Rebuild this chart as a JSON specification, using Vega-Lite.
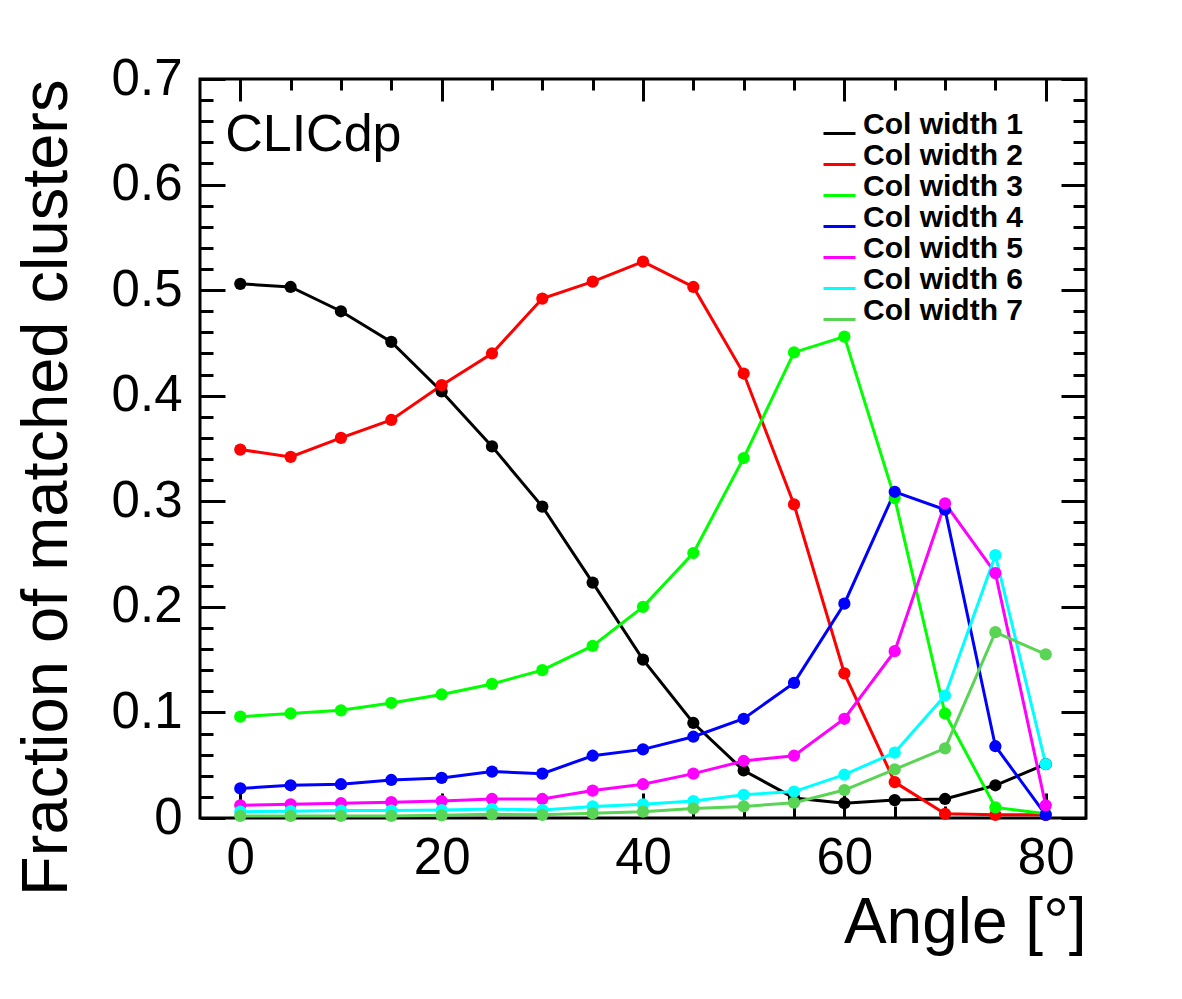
{
  "$schema": "https://vega.github.io/schema/vega-lite/v6.json",
  "width": 886,
  "height": 739,
  "autosize": {"type": "none"},
  "padding": {"left": 200, "top": 79, "right": 96, "bottom": 181},
  "background": "white",
  "config": {
    "view": {"stroke": "black", "strokeWidth": 3},
    "font": "Liberation Sans",
    "axis": {
      "grid": false, "domain": false, "tickColor": "black", "tickWidth": 3,
      "labelColor": "black", "labelFont": "Liberation Sans", "labelFontSize": 51,
      "titleFont": "Liberation Sans", "titleFontWeight": "normal", "titleColor": "black",
      "labelFlush": false, "labelOverlap": false
    }
  },
  "datasets": {
    "curves": [
      {"series": "Col width 1", "angle": 0, "frac": 0.506}, {"series": "Col width 1", "angle": 5, "frac": 0.503}, {"series": "Col width 1", "angle": 10, "frac": 0.480}, {"series": "Col width 1", "angle": 15, "frac": 0.451}, {"series": "Col width 1", "angle": 20, "frac": 0.404}, {"series": "Col width 1", "angle": 25, "frac": 0.352}, {"series": "Col width 1", "angle": 30, "frac": 0.295}, {"series": "Col width 1", "angle": 35, "frac": 0.223}, {"series": "Col width 1", "angle": 40, "frac": 0.150}, {"series": "Col width 1", "angle": 45, "frac": 0.090}, {"series": "Col width 1", "angle": 50, "frac": 0.045}, {"series": "Col width 1", "angle": 55, "frac": 0.019}, {"series": "Col width 1", "angle": 60, "frac": 0.014}, {"series": "Col width 1", "angle": 65, "frac": 0.017}, {"series": "Col width 1", "angle": 70, "frac": 0.018}, {"series": "Col width 1", "angle": 75, "frac": 0.031}, {"series": "Col width 1", "angle": 80, "frac": 0.051},
      {"series": "Col width 2", "angle": 0, "frac": 0.349}, {"series": "Col width 2", "angle": 5, "frac": 0.342}, {"series": "Col width 2", "angle": 10, "frac": 0.360}, {"series": "Col width 2", "angle": 15, "frac": 0.377}, {"series": "Col width 2", "angle": 20, "frac": 0.410}, {"series": "Col width 2", "angle": 25, "frac": 0.440}, {"series": "Col width 2", "angle": 30, "frac": 0.492}, {"series": "Col width 2", "angle": 35, "frac": 0.508}, {"series": "Col width 2", "angle": 40, "frac": 0.527}, {"series": "Col width 2", "angle": 45, "frac": 0.503}, {"series": "Col width 2", "angle": 50, "frac": 0.421}, {"series": "Col width 2", "angle": 55, "frac": 0.297}, {"series": "Col width 2", "angle": 60, "frac": 0.137}, {"series": "Col width 2", "angle": 65, "frac": 0.034}, {"series": "Col width 2", "angle": 70, "frac": 0.004}, {"series": "Col width 2", "angle": 75, "frac": 0.003}, {"series": "Col width 2", "angle": 80, "frac": 0.003},
      {"series": "Col width 3", "angle": 0, "frac": 0.096}, {"series": "Col width 3", "angle": 5, "frac": 0.099}, {"series": "Col width 3", "angle": 10, "frac": 0.102}, {"series": "Col width 3", "angle": 15, "frac": 0.109}, {"series": "Col width 3", "angle": 20, "frac": 0.117}, {"series": "Col width 3", "angle": 25, "frac": 0.127}, {"series": "Col width 3", "angle": 30, "frac": 0.140}, {"series": "Col width 3", "angle": 35, "frac": 0.163}, {"series": "Col width 3", "angle": 40, "frac": 0.200}, {"series": "Col width 3", "angle": 45, "frac": 0.251}, {"series": "Col width 3", "angle": 50, "frac": 0.341}, {"series": "Col width 3", "angle": 55, "frac": 0.441}, {"series": "Col width 3", "angle": 60, "frac": 0.456}, {"series": "Col width 3", "angle": 65, "frac": 0.303}, {"series": "Col width 3", "angle": 70, "frac": 0.099}, {"series": "Col width 3", "angle": 75, "frac": 0.010}, {"series": "Col width 3", "angle": 80, "frac": 0.004},
      {"series": "Col width 4", "angle": 0, "frac": 0.028}, {"series": "Col width 4", "angle": 5, "frac": 0.031}, {"series": "Col width 4", "angle": 10, "frac": 0.032}, {"series": "Col width 4", "angle": 15, "frac": 0.036}, {"series": "Col width 4", "angle": 20, "frac": 0.038}, {"series": "Col width 4", "angle": 25, "frac": 0.044}, {"series": "Col width 4", "angle": 30, "frac": 0.042}, {"series": "Col width 4", "angle": 35, "frac": 0.059}, {"series": "Col width 4", "angle": 40, "frac": 0.065}, {"series": "Col width 4", "angle": 45, "frac": 0.077}, {"series": "Col width 4", "angle": 50, "frac": 0.094}, {"series": "Col width 4", "angle": 55, "frac": 0.128}, {"series": "Col width 4", "angle": 60, "frac": 0.203}, {"series": "Col width 4", "angle": 65, "frac": 0.309}, {"series": "Col width 4", "angle": 70, "frac": 0.292}, {"series": "Col width 4", "angle": 75, "frac": 0.068}, {"series": "Col width 4", "angle": 80, "frac": 0.003},
      {"series": "Col width 5", "angle": 0, "frac": 0.012}, {"series": "Col width 5", "angle": 5, "frac": 0.013}, {"series": "Col width 5", "angle": 10, "frac": 0.014}, {"series": "Col width 5", "angle": 15, "frac": 0.015}, {"series": "Col width 5", "angle": 20, "frac": 0.016}, {"series": "Col width 5", "angle": 25, "frac": 0.018}, {"series": "Col width 5", "angle": 30, "frac": 0.018}, {"series": "Col width 5", "angle": 35, "frac": 0.026}, {"series": "Col width 5", "angle": 40, "frac": 0.032}, {"series": "Col width 5", "angle": 45, "frac": 0.042}, {"series": "Col width 5", "angle": 50, "frac": 0.054}, {"series": "Col width 5", "angle": 55, "frac": 0.059}, {"series": "Col width 5", "angle": 60, "frac": 0.094}, {"series": "Col width 5", "angle": 65, "frac": 0.158}, {"series": "Col width 5", "angle": 70, "frac": 0.298}, {"series": "Col width 5", "angle": 75, "frac": 0.232}, {"series": "Col width 5", "angle": 80, "frac": 0.012},
      {"series": "Col width 6", "angle": 0, "frac": 0.006}, {"series": "Col width 6", "angle": 5, "frac": 0.0065}, {"series": "Col width 6", "angle": 10, "frac": 0.007}, {"series": "Col width 6", "angle": 15, "frac": 0.007}, {"series": "Col width 6", "angle": 20, "frac": 0.0075}, {"series": "Col width 6", "angle": 25, "frac": 0.0085}, {"series": "Col width 6", "angle": 30, "frac": 0.0075}, {"series": "Col width 6", "angle": 35, "frac": 0.011}, {"series": "Col width 6", "angle": 40, "frac": 0.013}, {"series": "Col width 6", "angle": 45, "frac": 0.016}, {"series": "Col width 6", "angle": 50, "frac": 0.022}, {"series": "Col width 6", "angle": 55, "frac": 0.025}, {"series": "Col width 6", "angle": 60, "frac": 0.041}, {"series": "Col width 6", "angle": 65, "frac": 0.062}, {"series": "Col width 6", "angle": 70, "frac": 0.116}, {"series": "Col width 6", "angle": 75, "frac": 0.249}, {"series": "Col width 6", "angle": 80, "frac": 0.051},
      {"series": "Col width 7", "angle": 0, "frac": 0.002}, {"series": "Col width 7", "angle": 5, "frac": 0.002}, {"series": "Col width 7", "angle": 10, "frac": 0.002}, {"series": "Col width 7", "angle": 15, "frac": 0.002}, {"series": "Col width 7", "angle": 20, "frac": 0.0025}, {"series": "Col width 7", "angle": 25, "frac": 0.0035}, {"series": "Col width 7", "angle": 30, "frac": 0.003}, {"series": "Col width 7", "angle": 35, "frac": 0.0045}, {"series": "Col width 7", "angle": 40, "frac": 0.006}, {"series": "Col width 7", "angle": 45, "frac": 0.009}, {"series": "Col width 7", "angle": 50, "frac": 0.011}, {"series": "Col width 7", "angle": 55, "frac": 0.0145}, {"series": "Col width 7", "angle": 60, "frac": 0.0265}, {"series": "Col width 7", "angle": 65, "frac": 0.046}, {"series": "Col width 7", "angle": 70, "frac": 0.066}, {"series": "Col width 7", "angle": 75, "frac": 0.176}, {"series": "Col width 7", "angle": 80, "frac": 0.155}
    ],
    "label": [{"text": "CLICdp"}]
  },
  "data": {"name": "curves"},
  "layer": [
    {
      "mark": {"type": "line", "strokeWidth": 3},
      "encoding": {
        "x": {"field": "angle", "type": "quantitative",
              "scale": {"domain": [-4, 84], "nice": false, "zero": false},
              "axis": {"orient": "bottom", "values": [0, 20, 40, 60, 80], "tickSize": -25, "labelPadding": 40,
                       "title": "Angle [°]", "titleFontSize": 64, "titleAnchor": "end", "titlePadding": 8}},
        "y": {"field": "frac", "type": "quantitative",
              "scale": {"domain": [0, 0.7], "nice": false, "zero": false},
              "axis": {"orient": "left", "values": [0, 0.1, 0.2, 0.3, 0.4, 0.5, 0.6, 0.7], "format": "~g", "tickSize": -25, "labelPadding": 43,
                       "title": "Fraction of matched clusters", "titleFontSize": 65, "titleAnchor": "end", "titlePadding": 31}},
        "color": {"field": "series", "type": "nominal",
                  "scale": {"domain": ["Col width 1", "Col width 2", "Col width 3", "Col width 4", "Col width 5", "Col width 6", "Col width 7"],
                            "range": ["#000000", "#ff0000", "#00ff00", "#0000ff", "#ff00ff", "#00ffff", "#59d454"]},
                  "legend": {"orient": "none", "legendX": 622, "legendY": 37, "title": null, "symbolType": "stroke",
                             "symbolStrokeWidth": 3, "symbolSize": 1024, "labelFontSize": 30, "labelFontWeight": "bold", "labelLimit": 400,
                             "labelFont": "Liberation Sans", "labelColor": "black", "labelOffset": 6, "rowPadding": 0, "padding": 0,
                             "labelBaseline": "alphabetic", "symbolOffset": 0}}
      }
    },
    {
      "mark": {"type": "point", "filled": true, "size": 150, "opacity": 1},
      "encoding": {
        "x": {"field": "angle", "type": "quantitative",
              "axis": {"orient": "bottom", "values": [0, 5, 10, 15, 20, 25, 30, 35, 40, 45, 50, 55, 60, 65, 70, 75, 80], "tickSize": -12, "labels": false, "title": null}},
        "y": {"field": "frac", "type": "quantitative",
              "axis": {"orient": "left", "values": [0.02, 0.04, 0.06, 0.08, 0.12, 0.14, 0.16, 0.18, 0.22, 0.24, 0.26, 0.28, 0.32, 0.34, 0.36, 0.38, 0.42, 0.44, 0.46, 0.48, 0.52, 0.54, 0.56, 0.58, 0.62, 0.64, 0.66, 0.68], "tickSize": -13, "labels": false, "title": null}},
        "color": {"field": "series", "type": "nominal", "legend": null}
      }
    },
    {
      "data": {"name": "label"},
      "mark": {"type": "text", "fontSize": 52, "align": "left", "baseline": "alphabetic", "color": "black", "font": "Liberation Sans"},
      "encoding": {
        "x": {"datum": -1.5, "type": "quantitative",
              "axis": {"orient": "top", "values": [0, 20, 40, 60, 80], "tickSize": -22, "labels": false, "title": null}},
        "y": {"datum": 0.632, "type": "quantitative",
              "axis": {"orient": "right", "values": [0, 0.1, 0.2, 0.3, 0.4, 0.5, 0.6, 0.7], "tickSize": -25, "labels": false, "title": null}},
        "text": {"field": "text"}
      }
    },
    {
      "mark": {"type": "point", "opacity": 0},
      "encoding": {
        "x": {"field": "angle", "type": "quantitative",
              "axis": {"orient": "top", "values": [0, 5, 10, 15, 20, 25, 30, 35, 40, 45, 50, 55, 60, 65, 70, 75, 80], "tickSize": -11, "labels": false, "title": null}},
        "y": {"field": "frac", "type": "quantitative",
              "axis": {"orient": "right", "values": [0.02, 0.04, 0.06, 0.08, 0.12, 0.14, 0.16, 0.18, 0.22, 0.24, 0.26, 0.28, 0.32, 0.34, 0.36, 0.38, 0.42, 0.44, 0.46, 0.48, 0.52, 0.54, 0.56, 0.58, 0.62, 0.64, 0.66, 0.68], "tickSize": -13, "labels": false, "title": null}}
      }
    }
  ],
  "resolve": {"axis": {"x": "independent", "y": "independent"}}
}
